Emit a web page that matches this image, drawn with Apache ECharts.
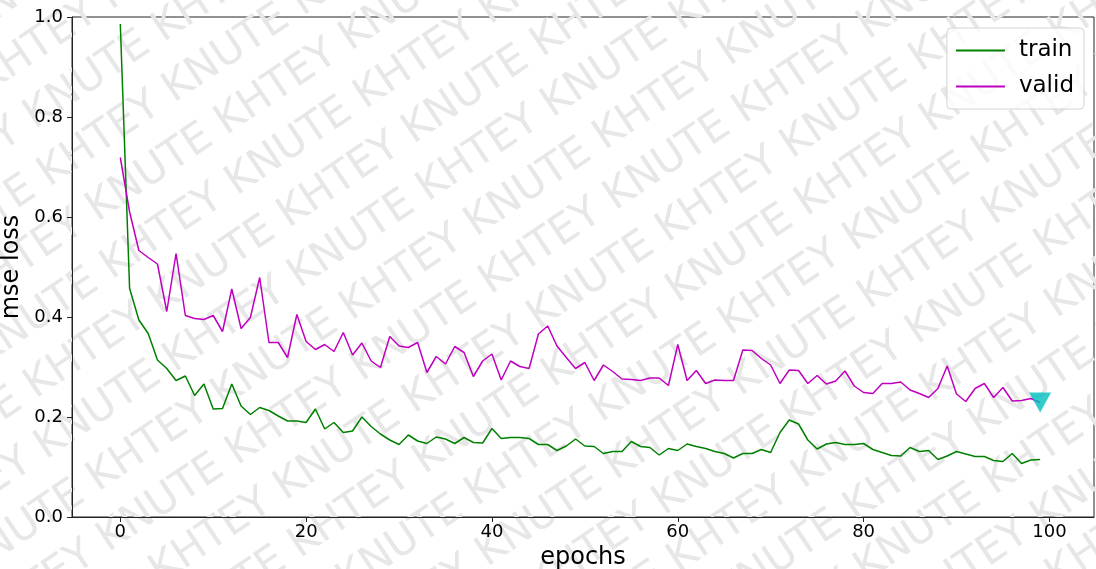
<!DOCTYPE html>
<html>
<head>
<meta charset="utf-8">
<script src="https://cdn.jsdelivr.net/npm/echarts@6/dist/echarts.min.js"></script>
<style>
  html, body { margin: 0; padding: 0; background: #fff; }
  #chart { width: 1096px; height: 569px; }
</style>
</head>
<body>
<div id="chart"></div>
<script>
  // epochs 0..99
  const epochs = Array.from({ length: 100 }, (_, i) => i)

  const train = [
    0.986, 0.457, 0.394, 0.367, 0.314, 0.297, 0.273, 0.282, 0.243, 0.266,
    0.216, 0.217, 0.266, 0.222, 0.205, 0.219, 0.213, 0.202, 0.192, 0.192,
    0.189, 0.216, 0.176, 0.189, 0.169, 0.172, 0.200, 0.181, 0.166, 0.154,
    0.145, 0.164, 0.152, 0.147, 0.160, 0.156, 0.147, 0.159, 0.149, 0.148,
    0.177, 0.157, 0.159, 0.159, 0.157, 0.145, 0.145, 0.133, 0.142, 0.156,
    0.142, 0.141, 0.127, 0.131, 0.131, 0.151, 0.141, 0.139, 0.124, 0.137,
    0.133, 0.146, 0.141, 0.137, 0.131, 0.127, 0.118, 0.127, 0.127, 0.135,
    0.129, 0.169, 0.194, 0.186, 0.154, 0.136, 0.146, 0.149, 0.145, 0.145,
    0.147, 0.135, 0.129, 0.123, 0.122, 0.139, 0.131, 0.133, 0.115, 0.122,
    0.131, 0.126, 0.121, 0.121, 0.113, 0.111, 0.127, 0.107, 0.114, 0.115
  ]

  const valid = [
    0.719, 0.610, 0.533, 0.519, 0.506, 0.411, 0.527, 0.403, 0.397, 0.395,
    0.403, 0.371, 0.456, 0.377, 0.399, 0.479, 0.349, 0.349, 0.319, 0.405,
    0.351, 0.335, 0.345, 0.331, 0.369, 0.324, 0.348, 0.312, 0.299, 0.361,
    0.342, 0.339, 0.349, 0.289, 0.321, 0.306, 0.341, 0.329, 0.281, 0.312,
    0.326, 0.274, 0.312, 0.301, 0.297, 0.366, 0.382, 0.342, 0.319, 0.297,
    0.309, 0.273, 0.304, 0.291, 0.276, 0.275, 0.273, 0.278, 0.278, 0.263,
    0.345, 0.273, 0.293, 0.267, 0.274, 0.273, 0.273, 0.334, 0.333, 0.317,
    0.304, 0.267, 0.294, 0.293, 0.267, 0.283, 0.266, 0.272, 0.292, 0.262,
    0.249, 0.247, 0.267, 0.267, 0.270, 0.254, 0.247, 0.239, 0.257, 0.302,
    0.246, 0.231, 0.257, 0.267, 0.239, 0.259, 0.232, 0.233, 0.237, 0.229
  ]

  const xTicks = [0, 20, 40, 60, 80, 100]
  const seriesNames = ['train', 'valid']
  const markIndex = 99   // last epoch marked with a triangle

  const font = '"DejaVu Sans", sans-serif'
  const axisColor = '#222'

  // watermark rows
  let wm = []
  for (let r = -13; r <= 13; r++) {
    wm.push({
      type: 'text',
      x: -1100 + (r % 2 === 0 ? 0 : 130),
      y: r * 56,
      style: {
        text: 'KHTEY KNUTE KHTEY KNUTE KHTEY KNUTE KHTEY KNUTE KHTEY KNUTE KHTEY KNUTE',
        font: '42px "DejaVu Sans"',
        fill: '#e7e7e7'
      }
    })
  }

  let chart = echarts.init(document.getElementById('chart'), null, { renderer: 'canvas' })
  chart.setOption({
    animation: false,
    backgroundColor: '#fff',
    graphic: [{
      type: 'group',
      x: 548,
      y: 285,
      rotation: 34 * Math.PI / 180,
      silent: true,
      z: -100,
      children: wm
    }],
    grid: {
      left: 72,
      right: 2,
      top: 17,
      bottom: 52,
      outerBoundsMode: 'none',
      containLabel: false,
      show: true,
      borderColor: axisColor,
      borderWidth: 1,
      backgroundColor: 'transparent'
    },
    legend: {
      data: seriesNames,
      icon: 'rect',
      orient: 'vertical',
      right: 12,
      top: 28,
      itemWidth: 49,
      itemHeight: 2,
      itemGap: 13,
      padding: [11, 10, 11, 9],
      borderColor: '#d4d4d4',
      borderWidth: 1,
      borderRadius: 4,
      backgroundColor: 'rgba(255,255,255,0.8)',
      textStyle: { fontSize: 23, color: '#000', fontFamily: font, padding: [0, 0, 0, 9] }
    },
    xAxis: {
      type: 'value',
      min: -5.2,
      max: 104.8,
      name: 'epochs',
      nameLocation: 'middle',
      nameGap: 26,
      nameTextStyle: { fontSize: 24, color: '#000', fontFamily: font },
      axisLine: { show: true, onZero: false, lineStyle: { color: axisColor } },
      axisTick: { show: true, length: 5, lineStyle: { color: axisColor }, customValues: xTicks },
      axisLabel: { fontSize: 18, color: '#000', fontFamily: font, margin: 6, customValues: xTicks },
      splitLine: { show: false }
    },
    yAxis: {
      type: 'value',
      min: 0,
      max: 1,
      interval: 0.2,
      name: 'mse loss',
      nameLocation: 'middle',
      nameGap: 41,
      nameTextStyle: { fontSize: 24, color: '#000', fontFamily: font },
      axisLine: { show: true, onZero: false, lineStyle: { color: axisColor } },
      axisTick: { show: true, length: 5, lineStyle: { color: axisColor } },
      axisLabel: {
        fontSize: 18, color: '#000', fontFamily: font, margin: 9,
        formatter: function (v) { return v.toFixed(1) }
      },
      splitLine: { show: false }
    },
    series: [
      {
        name: 'train',
        type: 'line',
        symbol: 'none',
        data: epochs.map(function (e, i) { return [e, train[i]] }),
        lineStyle: { color: '#008000', width: 1.5 },
        itemStyle: { color: '#008000' },
        z: 3
      },
      {
        name: 'valid',
        type: 'line',
        symbol: 'none',
        data: epochs.map(function (e, i) { return [e, valid[i]] }),
        lineStyle: { color: '#bf00bf', width: 1.5 },
        itemStyle: { color: '#bf00bf' },
        z: 3
      },
      {
        name: 'best',
        type: 'scatter',
        symbol: 'triangle',
        symbolRotate: 180,
        symbolSize: [22, 20],
        itemStyle: { color: '#00bfbf' },
        data: [[epochs[markIndex], valid[markIndex]]],
        z: 4
      }
    ]
  })
</script>
</body>
</html>
